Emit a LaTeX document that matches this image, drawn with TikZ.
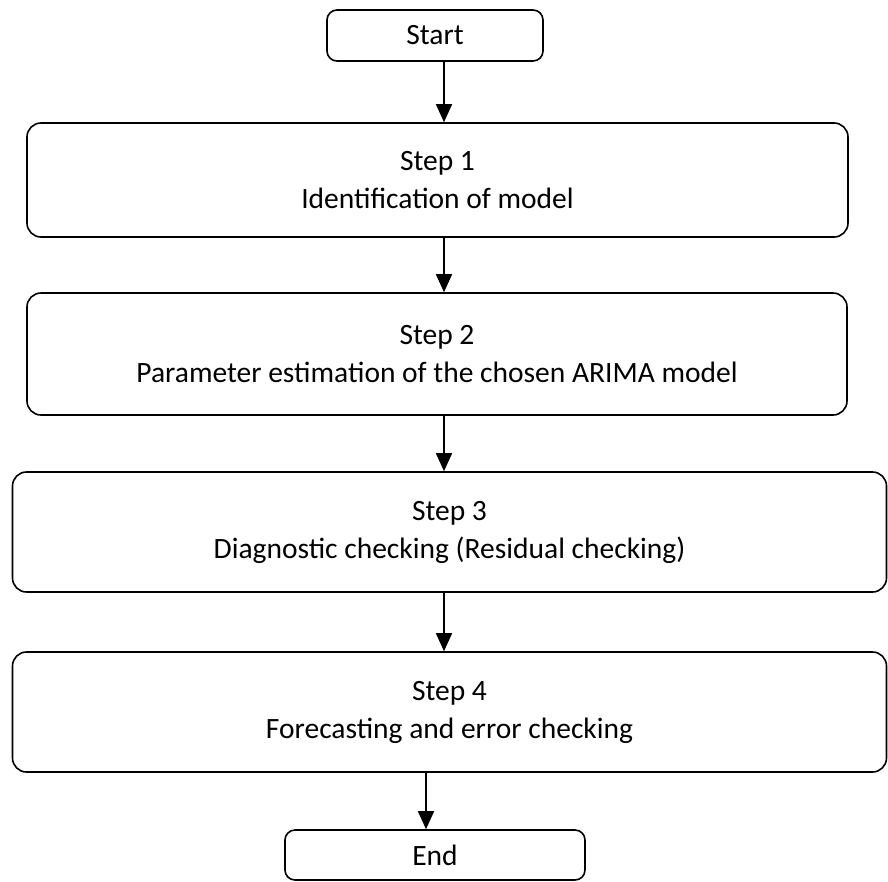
\documentclass[tikz,border=0pt]{standalone}
\usepackage{fontspec}
\setmainfont{Carlito}
\usetikzlibrary{arrows.meta}

\tikzset{
  stepbox/.style={draw=black, line width=1.6pt, rounded corners=14pt, align=center,
    font=\fontsize{29.5}{38}\selectfont, inner sep=0pt},
  endbox/.style={stepbox, rounded corners=10pt},
  arr/.style={line width=1.6pt, -{Triangle[length=18pt, width=16pt]}}
}

\begin{document}
\begin{tikzpicture}[x=1pt, y=-1pt]
      \useasboundingbox (0, 0) rectangle (888, 881);
      \node[endbox, minimum width=216pt, minimum height=51pt] (start) at (435, 35.5) {Start};
      \node[stepbox, minimum width=821pt, minimum height=114pt] (s1) at (437.5, 180) {Step 1\\Identification of model};
      \node[stepbox, minimum width=820pt, minimum height=122pt] (s2) at (437, 354) {Step 2\\Parameter estimation of the chosen ARIMA model};
      \node[stepbox, minimum width=874pt, minimum height=120pt] (s3) at (449.5, 532) {Step 3\\Diagnostic checking (Residual checking)};
      \node[stepbox, minimum width=874pt, minimum height=120pt] (s4) at (449.5, 712) {Step 4\\Forecasting and error checking};
      \node[endbox, minimum width=300pt, minimum height=50pt] (end) at (435, 855) {End};
      \coordinate (ax) at (444, 0);
      \coordinate (bx) at (426, 0);
      \draw[arr] (ax |- start.south) -- (ax |- s1.north);
      \draw[arr] (ax |- s1.south) -- (ax |- s2.north);
      \draw[arr] (ax |- s2.south) -- (ax |- s3.north);
      \draw[arr] (ax |- s3.south) -- (ax |- s4.north);
      \draw[arr] (bx |- s4.south) -- (bx |- end.north);
    \end{tikzpicture}
\end{document}
